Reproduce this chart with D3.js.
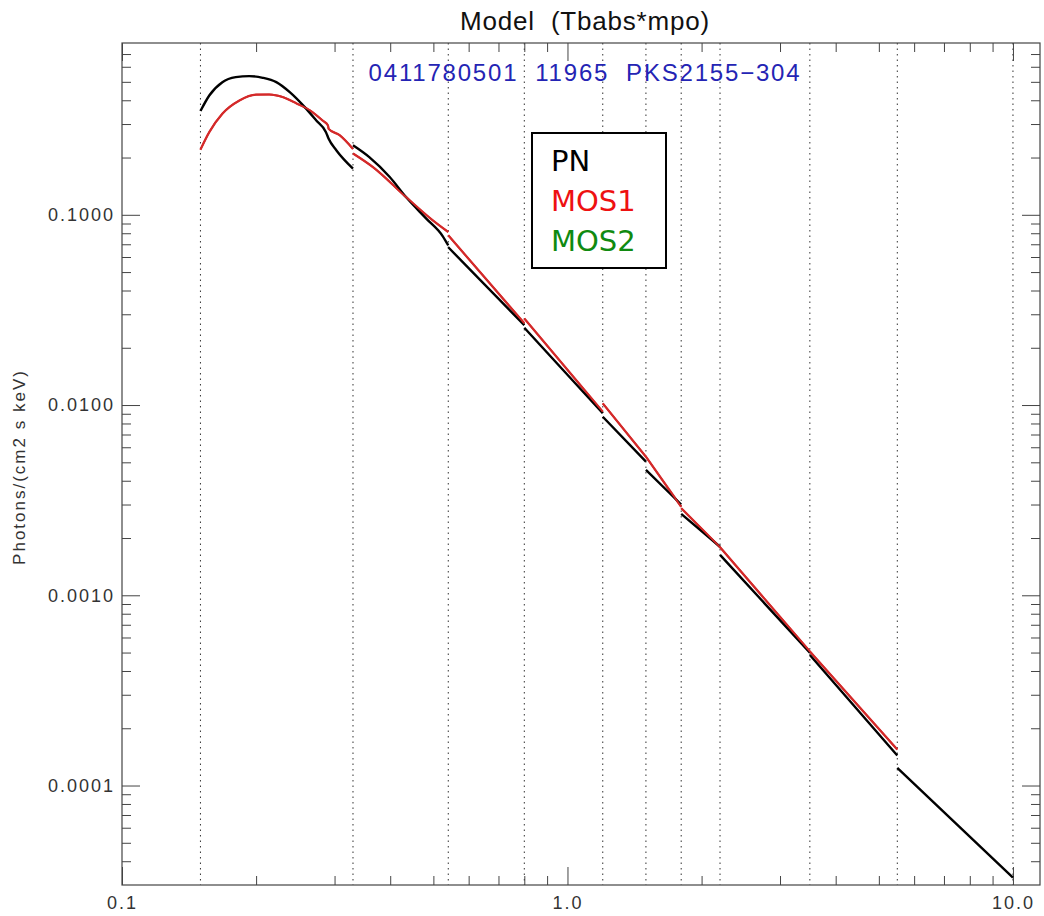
<!DOCTYPE html>
<html>
<head>
<meta charset="utf-8">
<script src="https://cdn.jsdelivr.net/npm/d3@7"></script>
<style>
  body { margin: 0; background: #fff; }
  text { font-family: "Liberation Sans", Arial, sans-serif; white-space: pre; }
</style>
</head>
<body>
<div id="chart"></div>
<script>
// channel boundaries (keV), drawn as dotted verticals
const channelEdges = [0.15, 0.33, 0.54, 0.8, 1.2, 1.5, 1.8, 2.2, 3.5, 5.5, 10];

// PN model, null marks a break between channels
const pnEnergy = [0.15, 0.157, 0.168, 0.180, 0.193, 0.207, 0.222, 0.238, 0.255, 0.273, 0.287, 0.291, 0.303, 0.33, null,
    0.33, 0.359, 0.399, 0.434, 0.482, 0.525, 0.54, null,
    0.54, 0.8, null,
    0.8, 1.2, null,
    1.2, 1.5, null,
    1.5, 1.8, null,
    1.8, 2.2, null,
    2.2, 3.5, null,
    3.5, 5.5, null,
    5.5, 10];
const pnFlux = [0.351, 0.424, 0.498, 0.529, 0.536, 0.525, 0.498, 0.441, 0.376, 0.313, 0.272, 0.251, 0.218, 0.175, null,
    0.232, 0.201, 0.158, 0.124, 0.0955, 0.0771, 0.069, null,
    0.0675, 0.0263, null,
    0.0255, 0.00905, null,
    0.00868, 0.00504, null,
    0.00456, 0.00300, null,
    0.00268, 0.00180, null,
    0.00163, 0.000499, null,
    0.000485, 0.0001437, null,
    0.0001239, 0.0000328];

// MOS1 model
const mos1Energy = [0.15, 0.157, 0.168, 0.1835, 0.200, 0.214, 0.230, 0.246, 0.264, 0.282, 0.290, 0.291, 0.308, 0.33, null,
    0.33, 0.366, 0.434, 0.4985, 0.54, null,
    0.54, 0.8, null,
    0.8, 1.2, null,
    1.2, 1.5, null,
    1.5, 1.8, null,
    1.8, 2.2, null,
    2.2, 3.5, null,
    3.5, 5.5];
const mos1Flux = [0.220, 0.272, 0.340, 0.399, 0.428, 0.429, 0.415, 0.386, 0.354, 0.313, 0.295, 0.283, 0.262, 0.222, null,
    0.210, 0.178, 0.124, 0.0935, 0.0812, null,
    0.078, 0.0269, null,
    0.0285, 0.00922, null,
    0.0102, 0.00535, null,
    0.00535, 0.00292, null,
    0.00287, 0.00179, null,
    0.00179, 0.000507, null,
    0.000507, 0.0001545];

const xMajor = [0.1, 1, 10];
const xMinor = [0.2, 0.3, 0.4, 0.5, 0.6, 0.7, 0.8, 0.9, 2, 3, 4, 5, 6, 7, 8, 9];
const yMajor = [0.0001, 0.001, 0.01, 0.1];
const yMinor = [4e-5, 5e-5, 6e-5, 7e-5, 8e-5, 9e-5,
    2e-4, 3e-4, 4e-4, 5e-4, 6e-4, 7e-4, 8e-4, 9e-4,
    2e-3, 3e-3, 4e-3, 5e-3, 6e-3, 7e-3, 8e-3, 9e-3,
    0.02, 0.03, 0.04, 0.05, 0.06, 0.07, 0.08, 0.09,
    0.2, 0.3, 0.4, 0.5, 0.6, 0.7];

const legendNames = ["PN", "MOS1", "MOS2"];
const legendColors = ["#000000", "#ee1111", "#108a10"];

const width = 1044, height = 916;
const plotLeft = 122, plotRight = 1040, plotTop = 43, plotBottom = 885;

const svg = d3.select("#chart").append("svg")
    .attr("width", width)
    .attr("height", height);

const x = d3.scaleLog().domain([0.1, 11.5]).range([plotLeft, plotRight]);
const y = d3.scaleLog().domain([3.0e-5, 0.8]).range([plotBottom, plotTop]);

// dotted channel lines
svg.append("g")
    .selectAll("line")
    .data(channelEdges)
    .enter()
    .append("line")
    .attr("x1", d => x(d)).attr("x2", d => x(d))
    .attr("y1", plotTop).attr("y2", plotBottom)
    .attr("stroke", "#333")
    .attr("stroke-width", 1)
    .attr("stroke-dasharray", "1.5,4");

// axes, ticks inward like IDL
function styleAxis(g) {
    g.select(".domain").remove();
    g.selectAll("line").attr("stroke", "#444");
    g.selectAll("text")
        .attr("fill", "#333")
        .style("font-size", "18px")
        .style("letter-spacing", "2px");
}

const majorLen = 18, minorLen = 9;

svg.append("g").attr("transform", `translate(0,${plotBottom})`)
    .call(d3.axisBottom(x).tickValues(xMajor).tickSize(-majorLen).tickPadding(11)
        .tickFormat(d3.format(".1f")))
    .call(styleAxis);
svg.append("g").attr("transform", `translate(0,${plotBottom})`)
    .call(d3.axisBottom(x).tickValues(xMinor).tickSize(-minorLen).tickFormat(""))
    .call(styleAxis);
svg.append("g").attr("transform", `translate(0,${plotTop})`)
    .call(d3.axisTop(x).tickValues(xMajor).tickSize(-majorLen).tickFormat(""))
    .call(styleAxis);
svg.append("g").attr("transform", `translate(0,${plotTop})`)
    .call(d3.axisTop(x).tickValues(xMinor).tickSize(-minorLen).tickFormat(""))
    .call(styleAxis);

svg.append("g").attr("transform", `translate(${plotLeft},0)`)
    .call(d3.axisLeft(y).tickValues(yMajor).tickSize(-majorLen).tickPadding(7)
        .tickFormat(d3.format(".4f")))
    .call(styleAxis);
svg.append("g").attr("transform", `translate(${plotLeft},0)`)
    .call(d3.axisLeft(y).tickValues(yMinor).tickSize(-minorLen).tickFormat(""))
    .call(styleAxis);
svg.append("g").attr("transform", `translate(${plotRight},0)`)
    .call(d3.axisRight(y).tickValues(yMajor).tickSize(-majorLen).tickFormat(""))
    .call(styleAxis);
svg.append("g").attr("transform", `translate(${plotRight},0)`)
    .call(d3.axisRight(y).tickValues(yMinor).tickSize(-minorLen).tickFormat(""))
    .call(styleAxis);

// frame
svg.append("rect")
    .attr("x", plotLeft).attr("y", plotTop)
    .attr("width", plotRight - plotLeft).attr("height", plotBottom - plotTop)
    .attr("fill", "none")
    .attr("stroke", "#444")
    .attr("stroke-width", 1.2);

// model curves
const line = d3.line()
    .defined(d => d[0] != null && d[1] != null)
    .x(d => x(d[0]))
    .y(d => y(d[1]))
    .curve(d3.curveMonotoneX);

svg.append("path")
    .datum(d3.zip(mos1Energy, mos1Flux))
    .attr("d", line)
    .attr("fill", "none")
    .attr("stroke", "#d42a2a")
    .attr("stroke-width", 2.2)
    .attr("stroke-linejoin", "round");

svg.append("path")
    .datum(d3.zip(pnEnergy, pnFlux))
    .attr("d", line)
    .attr("fill", "none")
    .attr("stroke", "#000")
    .attr("stroke-width", 2.4)
    .attr("stroke-linejoin", "round");

// redraw red on top where it sits above black
svg.append("path")
    .datum(d3.zip(mos1Energy, mos1Flux))
    .attr("d", line)
    .attr("fill", "none")
    .attr("stroke", "#d42a2a")
    .attr("stroke-width", 1.8)
    .attr("stroke-linejoin", "round");

// title and subtitle
svg.append("text")
    .attr("x", 585).attr("y", 30)
    .attr("text-anchor", "middle")
    .style("font-size", "26px")
    .style("letter-spacing", "0.8px")
    .attr("fill", "#111")
    .text("Model  (Tbabs*mpo)");

svg.append("text")
    .attr("x", 585).attr("y", 81)
    .attr("text-anchor", "middle")
    .style("font-size", "24px")
    .style("letter-spacing", "1.8px")
    .attr("fill", "#2424b4")
    .text("0411780501  11965  PKS2155\u2212304");

// y label
svg.append("text")
    .attr("transform", "translate(25,467) rotate(-90)")
    .attr("text-anchor", "middle")
    .style("font-size", "17px")
    .style("letter-spacing", "2px")
    .attr("fill", "#333")
    .text("Photons/(cm2 s keV)");

// legend
const legend = svg.append("g");
legend.append("rect")
    .attr("x", 532).attr("y", 133)
    .attr("width", 134).attr("height", 135)
    .attr("fill", "#fff")
    .attr("stroke", "#000")
    .attr("stroke-width", 2);
legend.selectAll("text.leg")
    .data(legendNames)
    .enter()
    .append("text")
    .attr("class", "leg")
    .attr("x", 551)
    .attr("y", (d, i) => 171 + i * 40)
    .style("font-family", "'DejaVu Sans', Verdana, sans-serif")
    .style("font-size", "29px")
    .attr("fill", (d, i) => legendColors[i])
    .text(d => d);
</script>
</body>
</html>
